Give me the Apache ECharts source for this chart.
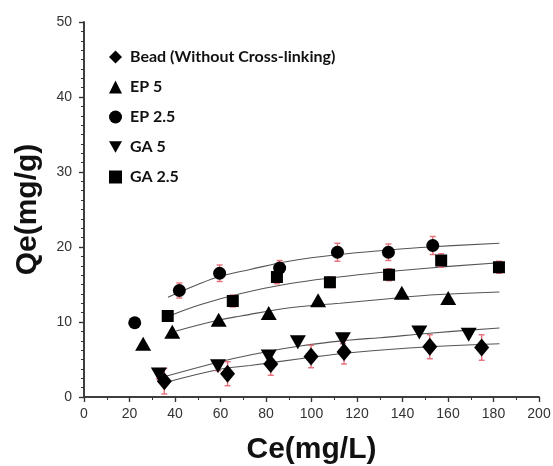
<!DOCTYPE html>
<html>
<head>
<meta charset="utf-8">
<script src="https://cdn.jsdelivr.net/npm/echarts@6/dist/echarts.min.js"></script>
<style>
  html, body { margin: 0; padding: 0; background: #fff; }
  #main { width: 553px; height: 466px; }
</style>
</head>
<body>
<div id="main"></div>
<script>
var myChart = echarts.init(document.getElementById('main'));

// measured points  [Ce, Qe, error]
var beadX = [35.3, 63.1, 82.1, 99.8, 114.3, 152.0, 174.8];
var beadY = [2.1, 3.1, 4.4, 5.4, 6.0, 6.7, 6.6];
var beadErr = [1.7, 1.6, 1.5, 1.5, 1.6, 1.6, 1.7];

var ep5X = [26.0, 38.8, 59.2, 81.2, 102.9, 139.7, 160.1];
var ep5Y = [7.1, 8.7, 10.3, 11.2, 12.9, 13.9, 13.2];
var ep5Err = [0, 0, 0, 0, 0, 0, 0];

var ep25X = [22.3, 41.9, 59.6, 86.0, 111.4, 133.8, 153.3];
var ep25Y = [9.9, 14.2, 16.5, 17.2, 19.3, 19.3, 20.2];
var ep25Err = [0.6, 1.0, 1.1, 1.0, 1.2, 1.1, 1.2];

var ga5X = [32.9, 58.9, 81.2, 94.0, 113.8, 147.4, 169.1];
var ga5Y = [3.0, 4.1, 5.4, 7.3, 7.7, 8.6, 8.3];
var ga5Err = [0.6, 0.6, 0.7, 0, 0.6, 0, 0];

var ga25X = [36.8, 65.4, 84.8, 108.1, 134.1, 157.0, 182.4];
var ga25Y = [10.8, 12.8, 16.0, 15.3, 16.3, 18.2, 17.3];
var ga25Err = [0.6, 0.8, 0.9, 0.7, 0.8, 0.9, 0.8];

// fitted curves
var fitEP25 = [[36.9, 13.3], [50, 15.0], [60, 16.1], [73, 17.0], [90, 18.1], [112, 19.0], [134, 19.6], [152, 20.0], [182.6, 20.5]];
var fitGA25 = [[37.5, 10.8], [51, 12.3], [69, 13.8], [90, 15.1], [112, 16.0], [130, 16.6], [152, 17.2], [182.6, 17.9]];
var fitEP5 = [[40.5, 8.8], [58.4, 10.2], [69, 10.8], [90.5, 11.9], [112.5, 12.5], [134, 13.1], [152, 13.6], [182.6, 14.0]];
var fitGA5 = [[36.4, 2.8], [59.8, 4.7], [73, 5.6], [95, 6.8], [117, 7.6], [130, 7.9], [152, 8.5], [182.6, 9.2]];
var fitBead = [[36.7, 2.0], [59.8, 3.7], [73, 4.2], [95, 5.1], [117, 5.9], [152, 6.7], [182.6, 7.1]];

var xTicks = [0, 20, 40, 60, 80, 100, 120, 140, 160, 180, 200];
var yTicks = [0, 10, 20, 30, 40, 50];

var downTri = 'path://M0,0 L10,0 L5,9 Z';

function pts(xs, ys, es) {
  return xs.map(function (x, i) { return [x, ys[i], es[i]]; });
}

var groups = [
  { name: 'Bead (Without Cross-linking)', x: beadX, y: beadY, e: beadErr, symbol: 'diamond', size: [15, 18], icon: 'diamond', fit: fitBead },
  { name: 'EP 5', x: ep5X, y: ep5Y, e: ep5Err, symbol: 'triangle', size: [16, 14], icon: 'triangle', fit: fitEP5 },
  { name: 'EP 2.5', x: ep25X, y: ep25Y, e: ep25Err, symbol: 'circle', size: 13, icon: 'circle', fit: fitEP25 },
  { name: 'GA 5', x: ga5X, y: ga5Y, e: ga5Err, symbol: downTri, size: [16, 14], icon: downTri, fit: fitGA5 },
  { name: 'GA 2.5', x: ga25X, y: ga25Y, e: ga25Err, symbol: 'rect', size: 12, icon: 'rect', fit: fitGA25 }
];

function errorBars(params, api) {
  var x = api.value(0), y = api.value(1), e = api.value(2);
  if (!e) return;
  var top = api.coord([x, y + e]);
  var bot = api.coord([x, y - e]);
  var w = 3;
  var st = { stroke: '#e5707c', lineWidth: 1.4 };
  return {
    type: 'group',
    children: [
      { type: 'line', shape: { x1: top[0], y1: top[1], x2: bot[0], y2: bot[1] }, style: st },
      { type: 'line', shape: { x1: top[0] - w, y1: top[1], x2: top[0] + w, y2: top[1] }, style: st },
      { type: 'line', shape: { x1: bot[0] - w, y1: bot[1], x2: bot[0] + w, y2: bot[1] }, style: st }
    ]
  };
}

var series = [];
groups.forEach(function (g) {
  series.push({
    name: g.name + ' fit',
    type: 'line',
    data: g.fit,
    smooth: 0.4,
    showSymbol: false,
    lineStyle: { color: '#555', width: 1.2 },
    z: 1,
    silent: true
  });
  series.push({
    name: g.name + ' err',
    type: 'custom',
    renderItem: errorBars,
    data: pts(g.x, g.y, g.e),
    z: 2,
    silent: true
  });
  series.push({
    name: g.name,
    type: 'scatter',
    symbol: g.symbol,
    symbolSize: g.size,
    data: pts(g.x, g.y, g.e),
    itemStyle: { color: '#000', opacity: 1 },
    z: 3
  });
});

var option = {
  animation: false,
  backgroundColor: '#fff',
  grid: { left: 84, right: 14, top: 22, bottom: 69, outerBoundsMode: 'none', containLabel: false },
  legend: {
    orient: 'vertical',
    left: 104,
    top: 44,
    itemWidth: 13,
    itemHeight: 13,
    itemGap: 14,
    data: groups.map(function (g) { return { name: g.name, icon: g.icon }; }),
    textStyle: { fontFamily: 'Lato', fontWeight: 'bold', fontSize: 16, color: '#111', padding: [0, 0, 0, 3] },
    itemStyle: { color: '#000', opacity: 1 }
  },
  xAxis: [
    {
      type: 'value',
      min: xTicks[0],
      max: xTicks[xTicks.length - 1],
      interval: 20,
      name: 'Ce(mg/L)',
      nameLocation: 'middle',
      nameGap: 38,
      nameTextStyle: { fontFamily: 'Liberation Sans', fontWeight: 'bold', fontSize: 30, color: '#111' },
      axisLine: { lineStyle: { color: '#333', width: 1.5 } },
      axisTick: { inside: false, length: 5, lineStyle: { color: '#333', width: 1.2 } },
      minorTick: { show: true, splitNumber: 2, length: 3, lineStyle: { color: '#333' } },
      axisLabel: { fontFamily: 'Liberation Sans', fontSize: 14, color: '#333', margin: 10 },
      splitLine: { show: false }
    },
    {
      type: 'value',
      position: 'top',
      min: xTicks[0],
      max: xTicks[xTicks.length - 1],
      interval: 20,
      axisLine: { lineStyle: { color: '#333', width: 1.5 } },
      axisTick: { inside: true, length: 5, lineStyle: { color: '#333', width: 1.2 } },
      minorTick: { show: true, splitNumber: 2, length: 3, lineStyle: { color: '#333' } },
      axisLabel: { show: false },
      splitLine: { show: false }
    }
  ],
  yAxis: [
    {
      type: 'value',
      min: yTicks[0],
      max: yTicks[yTicks.length - 1],
      interval: 10,
      name: 'Qe(mg/g)',
      nameLocation: 'middle',
      nameGap: 41,
      nameTextStyle: { fontFamily: 'Liberation Sans', fontWeight: 'bold', fontSize: 30, color: '#111' },
      axisLine: { lineStyle: { color: '#333', width: 1.5 } },
      axisTick: { inside: false, length: 5, lineStyle: { color: '#333', width: 1.2 } },
      minorTick: { show: true, splitNumber: 8, length: 3, lineStyle: { color: '#333' } },
      axisLabel: { fontFamily: 'Liberation Sans', fontSize: 14, color: '#333', margin: 12 },
      splitLine: { show: false }
    },
    {
      type: 'value',
      position: 'right',
      min: yTicks[0],
      max: yTicks[yTicks.length - 1],
      interval: 10,
      axisLine: { lineStyle: { color: '#333', width: 1.5 } },
      axisTick: { inside: true, length: 5, lineStyle: { color: '#333', width: 1.2 } },
      minorTick: { show: true, splitNumber: 2, length: 3, lineStyle: { color: '#333' } },
      axisLabel: { show: false },
      splitLine: { show: false }
    }
  ],
  series: series
};

option && myChart.setOption(option);
</script>
</body>
</html>
